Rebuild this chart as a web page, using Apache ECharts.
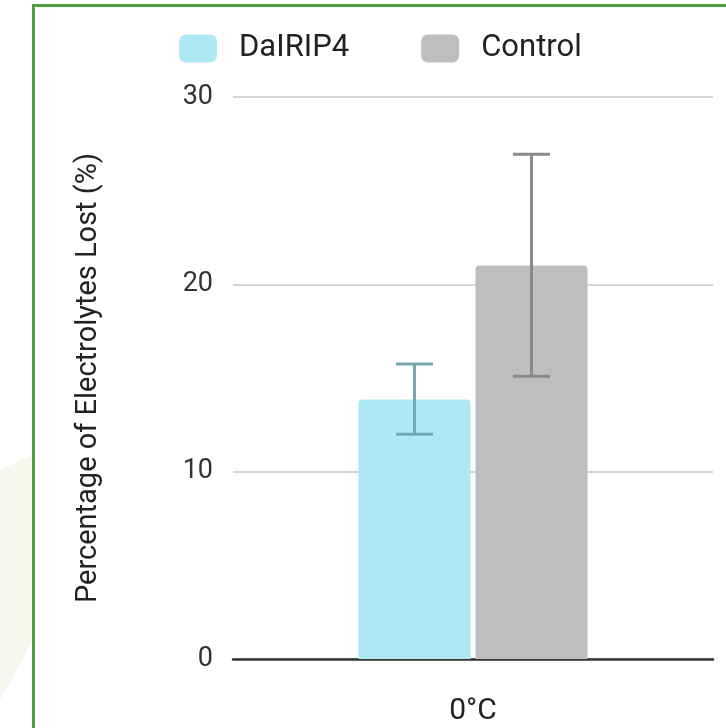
<!DOCTYPE html>
<html>
<head>
<meta charset="utf-8">
<script src="https://cdn.jsdelivr.net/npm/echarts@6/dist/echarts.min.js"></script>
<style>
html,body{margin:0;padding:0;background:#fff;}
#chart{width:726px;height:728px;}
</style>
</head>
<body>
<div id="chart"></div>
<script>
const categories = ['0°C'];
const seriesNames = ['DaIRIP4', 'Control'];
const dairip4Values = [13.85];
const controlValues = [21.0];
const dairip4Err = [[12.0, 15.75]];
const controlErr = [[15.1, 26.95]];
const yTicks = [0, 10, 20, 30];

const BAR_W = 112, BAR_GAP = 5;
const colors = ['#aee8f4', '#bebebe'];
const errColors = ['#74a7b2', '#8a8a8a'];

function errSeries(err, idx) {
  const offset = (idx === 0 ? -1 : 1) * (BAR_W + BAR_GAP) / 2;
  return {
    type: 'custom',
    name: seriesNames[idx] + ' err',
    z: 5,
    silent: true,
    encode: {x: 0, y: [1, 2]},
    data: categories.map((c, i) => [i, err[i][0], err[i][1]]),
    renderItem: function (params, api) {
      const lo = api.coord([api.value(0), api.value(1)]);
      const hi = api.coord([api.value(0), api.value(2)]);
      const x = lo[0] + offset;
      const cap = 18.5;
      const st = {stroke: errColors[idx], lineWidth: 3};
      return {
        type: 'group',
        children: [
          {type: 'line', shape: {x1: x, y1: lo[1], x2: x, y2: hi[1]}, style: st},
          {type: 'line', shape: {x1: x - cap, y1: lo[1], x2: x + cap, y2: lo[1]}, style: st},
          {type: 'line', shape: {x1: x - cap, y1: hi[1], x2: x + cap, y2: hi[1]}, style: st}
        ]
      };
    }
  };
}

const chart = echarts.init(document.getElementById('chart'), null, {renderer: 'canvas'});
chart.setOption({
  backgroundColor: '#ffffff',
  animation: false,
  textStyle: {fontFamily: 'Roboto'},
  graphic: [
    {
      type: 'polygon', z: -10, silent: true,
      shape: {points: [[0, 470], [33, 455], [33, 640], [0, 700]]},
      style: {fill: '#f4f8ef'}
    },
    {
      type: 'rect', z: 100, silent: true,
      shape: {x: 33.5, y: 5.5, width: 720, height: 760},
      style: {fill: 'none', stroke: '#4f9f3f', lineWidth: 3}
    }
  ],
  legend: {
    data: seriesNames,
    left: 174,
    top: 28,
    itemWidth: 38,
    itemHeight: 28,
    itemGap: 72,
    icon: 'roundRect',
    textStyle: {fontSize: 31, color: '#222', fontFamily: 'Roboto', padding: [0, 0, 0, 17]}
  },
  grid: {left: 233, right: 13, top: 97, bottom: 69, containLabel: false},
  xAxis: {
    type: 'category',
    data: categories,
    axisTick: {show: false},
    axisLine: {show: true, lineStyle: {color: '#333', width: 2.5}},
    axisLabel: {fontSize: 30, color: '#222', margin: 37, fontFamily: 'Roboto'}
  },
  yAxis: {
    type: 'value',
    min: 0,
    max: 30,
    interval: 10,
    axisLine: {show: false},
    axisTick: {show: false},
    splitLine: {lineStyle: {color: '#d4d4d4', width: 2}},
    axisLabel: {fontSize: 27, color: '#333', margin: 20, fontFamily: 'Roboto'},
    name: 'Percentage of Electrolytes Lost (%)',
    nameLocation: 'middle',
    nameGap: 130,
    nameTextStyle: {fontSize: 29, color: '#222', fontFamily: 'Roboto'}
  },
  series: [
    {
      type: 'bar', name: seriesNames[0], data: dairip4Values,
      barWidth: BAR_W, barGap: (BAR_GAP / BAR_W * 100) + '%',
      itemStyle: {color: colors[0], borderRadius: [4, 4, 0, 0]}
    },
    {
      type: 'bar', name: seriesNames[1], data: controlValues,
      barWidth: BAR_W,
      itemStyle: {color: colors[1], borderRadius: [4, 4, 0, 0]}
    },
    errSeries(dairip4Err, 0),
    errSeries(controlErr, 1)
  ]
});
</script>
</body>
</html>
